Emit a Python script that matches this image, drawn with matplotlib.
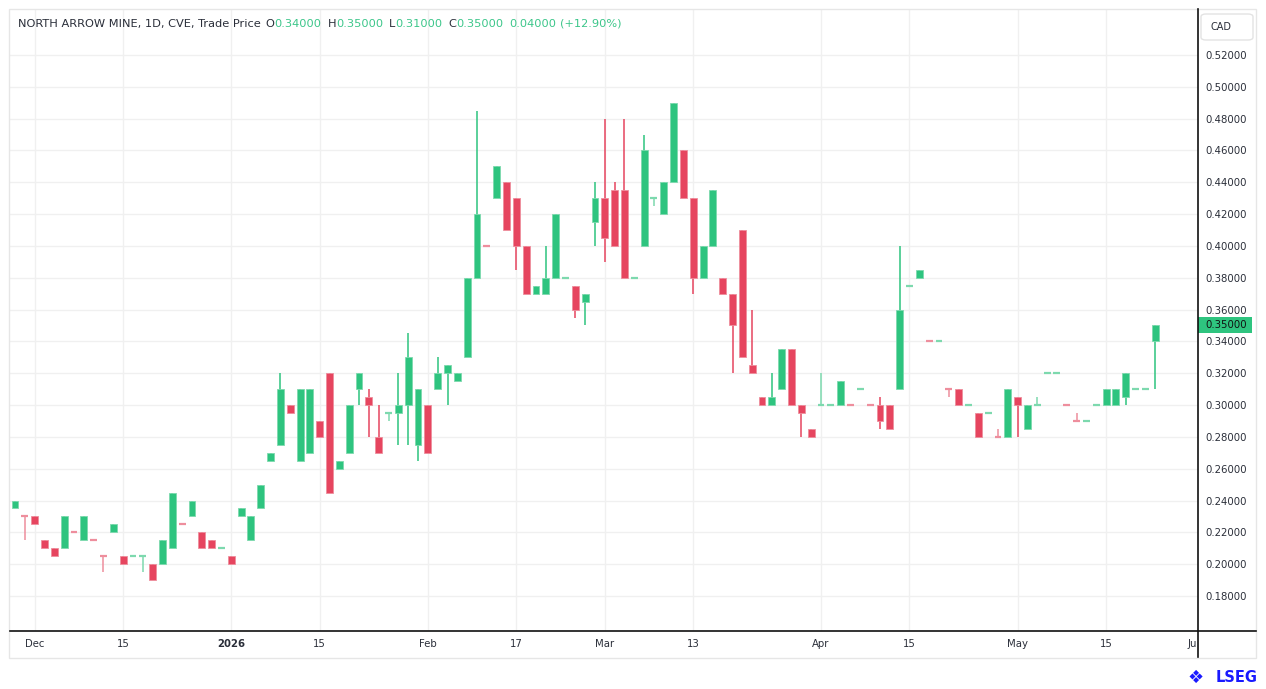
import matplotlib
matplotlib.use('Agg')
import matplotlib.pyplot as plt
from matplotlib.patches import Rectangle, FancyBboxPatch
from matplotlib.lines import Line2D
from matplotlib.transforms import Bbox, blended_transform_factory

# ---------------- data (daily OHLC, CAD) ----------------
opens = [0.235, 0.23, 0.23, 0.215, 0.21, 0.21, 0.22, 0.215, 0.215, 0.205,
         0.22, 0.205, 0.205, 0.205, 0.20, 0.20, 0.21, 0.225, 0.23, 0.22,
         0.215, 0.21, 0.205, 0.23, 0.215, 0.235, 0.265, 0.275, 0.30, 0.265,
         0.27, 0.29, 0.32, 0.26, 0.27, 0.31, 0.305, 0.28, 0.295, 0.295,
         0.30, 0.275, 0.30, 0.31, 0.32, 0.315, 0.33, 0.38, 0.40, 0.43,
         0.44, 0.43, 0.40, 0.37, 0.37, 0.38, 0.38, 0.375, 0.365, 0.415,
         0.43, 0.435, 0.435, 0.38, 0.40, 0.43, 0.42, 0.44, 0.46, 0.43,
         0.38, 0.40, 0.38, 0.37, 0.41, 0.325, 0.305, 0.30, 0.31, 0.335,
         0.30, 0.285, 0.30, 0.30, 0.30, 0.30, 0.31, 0.30, 0.30, 0.30,
         0.31, 0.375, 0.38, 0.34, 0.34, 0.31, 0.31, 0.30, 0.295, 0.295,
         0.28, 0.28, 0.305, 0.285, 0.30, 0.32, 0.32, 0.30, 0.29, 0.29,
         0.30, 0.30, 0.30, 0.305, 0.31, 0.31, 0.34]
highs = [0.24, 0.23, 0.23, 0.215, 0.21, 0.23, 0.22, 0.23, 0.215, 0.205,
         0.225, 0.205, 0.205, 0.205, 0.20, 0.215, 0.245, 0.225, 0.24, 0.22,
         0.215, 0.21, 0.205, 0.235, 0.23, 0.25, 0.27, 0.32, 0.30, 0.31,
         0.31, 0.29, 0.32, 0.265, 0.30, 0.32, 0.31, 0.30, 0.295, 0.32,
         0.345, 0.31, 0.30, 0.33, 0.325, 0.32, 0.38, 0.485, 0.40, 0.45,
         0.44, 0.43, 0.40, 0.375, 0.40, 0.42, 0.38, 0.375, 0.37, 0.44,
         0.48, 0.44, 0.48, 0.38, 0.47, 0.43, 0.44, 0.49, 0.46, 0.43,
         0.40, 0.435, 0.38, 0.37, 0.41, 0.36, 0.305, 0.32, 0.335, 0.335,
         0.30, 0.285, 0.32, 0.30, 0.315, 0.30, 0.31, 0.30, 0.305, 0.30,
         0.40, 0.375, 0.385, 0.34, 0.34, 0.31, 0.31, 0.30, 0.295, 0.295,
         0.285, 0.31, 0.305, 0.30, 0.305, 0.32, 0.32, 0.30, 0.295, 0.29,
         0.30, 0.31, 0.31, 0.32, 0.31, 0.31, 0.35]
lows = [0.235, 0.215, 0.225, 0.21, 0.205, 0.21, 0.22, 0.215, 0.215, 0.195,
        0.22, 0.20, 0.205, 0.195, 0.19, 0.20, 0.21, 0.225, 0.23, 0.21,
        0.21, 0.21, 0.20, 0.23, 0.215, 0.235, 0.265, 0.275, 0.295, 0.265,
        0.27, 0.28, 0.245, 0.26, 0.27, 0.30, 0.28, 0.27, 0.29, 0.275,
        0.275, 0.265, 0.27, 0.31, 0.30, 0.315, 0.33, 0.38, 0.40, 0.43,
        0.41, 0.385, 0.37, 0.37, 0.37, 0.38, 0.38, 0.355, 0.35, 0.40,
        0.39, 0.40, 0.38, 0.38, 0.40, 0.425, 0.42, 0.44, 0.43, 0.37,
        0.38, 0.40, 0.37, 0.32, 0.33, 0.32, 0.30, 0.30, 0.31, 0.30,
        0.28, 0.28, 0.30, 0.30, 0.30, 0.30, 0.31, 0.30, 0.285, 0.285,
        0.31, 0.375, 0.38, 0.34, 0.34, 0.305, 0.30, 0.30, 0.28, 0.295,
        0.28, 0.28, 0.28, 0.285, 0.30, 0.32, 0.32, 0.30, 0.29, 0.29,
        0.30, 0.30, 0.30, 0.30, 0.31, 0.31, 0.31]
closes = [0.24, 0.23, 0.225, 0.21, 0.205, 0.23, 0.22, 0.23, 0.215, 0.205,
          0.225, 0.20, 0.205, 0.205, 0.19, 0.215, 0.245, 0.225, 0.24, 0.21,
          0.21, 0.21, 0.20, 0.235, 0.23, 0.25, 0.27, 0.31, 0.295, 0.31,
          0.31, 0.28, 0.245, 0.265, 0.30, 0.32, 0.30, 0.27, 0.295, 0.30,
          0.33, 0.31, 0.27, 0.32, 0.325, 0.32, 0.38, 0.42, 0.40, 0.45,
          0.41, 0.40, 0.37, 0.375, 0.38, 0.42, 0.38, 0.36, 0.37, 0.43,
          0.405, 0.40, 0.38, 0.38, 0.46, 0.43, 0.44, 0.49, 0.43, 0.38,
          0.40, 0.435, 0.37, 0.35, 0.33, 0.32, 0.30, 0.305, 0.335, 0.30,
          0.295, 0.28, 0.30, 0.30, 0.315, 0.30, 0.31, 0.30, 0.29, 0.285,
          0.36, 0.375, 0.385, 0.34, 0.34, 0.31, 0.30, 0.30, 0.28, 0.295,
          0.28, 0.31, 0.30, 0.30, 0.30, 0.32, 0.32, 0.30, 0.29, 0.29,
          0.30, 0.31, 0.31, 0.32, 0.31, 0.31, 0.35]
# unchanged-price (open == close) sessions that are drawn as falling
flat_red = [1, 6, 8, 9, 17, 48, 85, 87, 93, 95, 100, 107, 108]

x_tick_pos = [2, 11, 22, 31, 42, 51, 60, 69, 82, 91, 102, 111, 120.1]
x_tick_labels = ['Dec', '15', '2026', '15', 'Feb', '17', 'Mar', '13',
                 'Apr', '15', 'May', '15', 'Jun']
y_ticks = [0.18, 0.20, 0.22, 0.24, 0.26, 0.28, 0.30, 0.32, 0.34, 0.36,
           0.38, 0.40, 0.42, 0.44, 0.46, 0.48, 0.50, 0.52]
title = 'NORTH ARROW MINE, 1D, CVE, Trade Price'

# ---------------- style ----------------
UP = '#2ec47f'
DN = '#e6455f'
UP_W = '#7dd9ae'
DN_W = '#ee8e9d'
GRID = '#f0f0f0'
TXT = '#2a2e39'
W, H = 1266, 689

fig = plt.figure(figsize=(W / 100, H / 100), dpi=100)
fig.patch.set_facecolor('white')


def fx(px):
    return px / W


def fy(py):
    return 1 - py / H


L_PX, R_PX, T_PX, B_PX = 10, 1197.5, 9, 631
ax = fig.add_axes([fx(L_PX), fy(B_PX), fx(R_PX) - fx(L_PX), fy(T_PX) - fy(B_PX)])
ax.set_facecolor('white')
ax.set_xlim(-0.51, 120.3)
ax.set_ylim(0.158, 0.5489)
for s in ax.spines.values():
    s.set_visible(False)

# grid
for v in y_ticks:
    ax.axhline(v, color=GRID, lw=1, zorder=0)
for p in x_tick_pos[:-1]:
    ax.axvline(p, color=GRID, lw=1, zorder=0)

# candles
n = len(closes)
bw = 0.7
for i in range(n):
    o, h, l, c = opens[i], highs[i], lows[i], closes[i]
    if c > o:
        up = True
    elif c < o:
        up = False
    else:
        up = i not in flat_red
    col = UP if up else DN
    wcol = UP_W if up else DN_W
    if h > l:
        ax.vlines(i, l, h, color=wcol if c == o else col, lw=1.1, zorder=2)
    if c == o:
        ax.hlines(c, i - bw / 2, i + bw / 2, color=wcol, lw=1.6, zorder=3)
    else:
        ax.bar(i, abs(c - o), bottom=min(o, c), width=bw, color=col,
               edgecolor=wcol, linewidth=0.6, zorder=3)

# y ticks on the right
ax.yaxis.tick_right()
ax.set_yticks(y_ticks)
ax.set_yticklabels([f'{v:.5f}' for v in y_ticks])
ax.tick_params(axis='y', length=0, pad=6, labelsize=7.3, labelcolor=TXT)
ax.set_xticks([])

# x tick labels
trans = blended_transform_factory(ax.transData, fig.transFigure)
for p, lab in zip(x_tick_pos, x_tick_labels):
    t = ax.text(p, fy(644), lab, transform=trans, ha='center', va='center',
                fontsize=7.3, color=TXT,
                fontweight='bold' if lab.isdigit() and len(lab) == 4 else 'normal')
    t.set_clip_box(Bbox.from_extents(0, 0, R_PX - 0.5, H))
    t.set_clip_on(True)

# outer frame and axis lines
fig.add_artist(Rectangle((fx(9), fy(658)), fx(1256) - fx(9), fy(9) - fy(658),
                         transform=fig.transFigure, fill=False,
                         edgecolor='#e6e6e6', lw=1))
fig.add_artist(Line2D([fx(L_PX), fx(1256)], [fy(B_PX), fy(B_PX)],
                      transform=fig.transFigure, color='#111111', lw=1.2))
fig.add_artist(Line2D([fx(R_PX), fx(R_PX)], [fy(9), fy(657)],
                      transform=fig.transFigure, color='#111111', lw=1.2))

# CAD box
fig.add_artist(FancyBboxPatch((fx(1201), fy(40)), fx(1253) - fx(1201), fy(14) - fy(40),
                              boxstyle='round,pad=0,rounding_size=0.004',
                              transform=fig.transFigure, facecolor='white',
                              edgecolor='#e3e3e3', lw=1))
fig.text(fx(1221), fy(27), 'CAD', ha='center', va='center', fontsize=7, color=TXT)

# last price label
last = closes[-1]
last_y = ax.transData.transform((0, last))[1]
fig.add_artist(Rectangle((fx(R_PX + 0.5), (last_y - 8) / H), fx(1252) - fx(R_PX + 0.5), 16 / H,
                         transform=fig.transFigure, facecolor=UP, edgecolor='none'))
fig.text(fx(1205), last_y / H, f'{last:.5f}', ha='left', va='center',
         fontsize=7.3, color='#111111')

# header
renderer = fig.canvas.get_renderer()
probe = fig.text(0, 0, title, fontsize=10)
wpx = probe.get_window_extent(renderer).width
probe.remove()
hs = 10 * 244 / wpx
chg = closes[-1] - closes[-2]
pct = chg / closes[-2] * 100
HG = '#3cc68a'
segs = [(title, TXT, 5), ('O', TXT, 0), (f'{opens[-1]:.5f}', HG, 6),
        ('H', TXT, 0), (f'{highs[-1]:.5f}', HG, 6),
        ('L', TXT, 0), (f'{lows[-1]:.5f}', HG, 6),
        ('C', TXT, 0), (f'{closes[-1]:.5f}', HG, 6),
        (f'{chg:.5f}', HG, 3), (f'(+{pct:.2f}%)', HG, 0)]
x = 18
for txt, col, gap in segs:
    t = fig.text(fx(x), fy(24), txt, color=col, fontsize=hs, ha='left', va='center')
    x += t.get_window_extent(renderer).width + gap

# logo
fig.text(fx(1196), fy(678), '\u2756', ha='center', va='center', fontsize=13, color='#1a1aff')
fig.text(fx(1216), fy(678), 'LSEG', ha='left', va='center', fontsize=10.5,
         fontweight='bold', color='#1a1aff')

fig.savefig('out.png', dpi=100)
